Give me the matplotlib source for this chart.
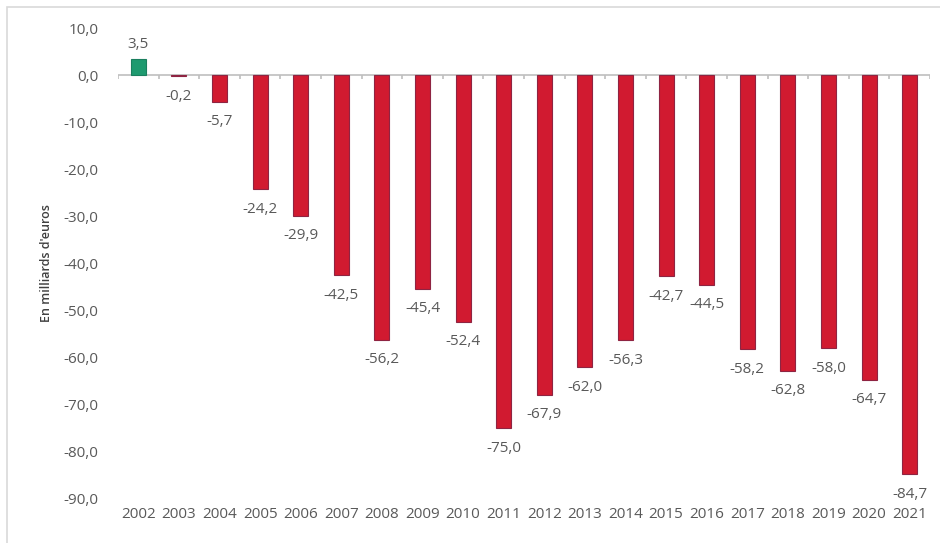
import numpy as np
import matplotlib.pyplot as plt
from matplotlib.patches import Rectangle

# solde commercial, en milliards d'euros
years = ['2002', '2003', '2004', '2005', '2006', '2007', '2008', '2009', '2010', '2011',
         '2012', '2013', '2014', '2015', '2016', '2017', '2018', '2019', '2020', '2021']
values = [3.5, -0.2, -5.7, -24.2, -29.9, -42.5, -56.2, -45.4, -52.4, -75.0,
          -67.9, -62.0, -56.3, -42.7, -44.5, -58.2, -62.8, -58.0, -64.7, -84.7]
y_ticks = [10, 0, -10, -20, -30, -40, -50, -60, -70, -80, -90]

plt.rcParams['font.family'] = ['Open Sans', 'DejaVu Sans']
txt = '#595959'
red = '#D11A30'
green = '#1E9A6F'

fig = plt.figure(figsize=(9.4, 5.43), dpi=100)
# light frame around the chart
fig.patches.append(Rectangle((7 / 940, -0.1), 1.2, 1 - 7 / 543 + 0.1, transform=fig.transFigure,
                             fill=False, edgecolor='#D9D9D9', linewidth=1.2))
ax = fig.add_axes([118 / 940, 1 - 499 / 543, 812 / 940, 471 / 543])

x = np.arange(len(years))
colors = [green if v > 0 else red for v in values]
ax.bar(x, values, width=0.37, color=colors, edgecolor=['#1B7F5E' if v > 0 else '#8E2442' for v in values],
       linewidth=0.8, zorder=2)

for xi, v in zip(x, values):
    s = ('%.1f' % v).replace('.', ',')
    if v >= 0:
        ax.annotate(s, (xi, v), xytext=(0, 5), textcoords='offset points',
                    ha='center', va='bottom', fontsize=11, color=txt)
    else:
        ax.annotate(s, (xi, v), xytext=(0, -9), textcoords='offset points',
                    ha='center', va='top', fontsize=11, color=txt)

ax.set_xlim(-0.5, len(years) - 0.5)
ax.set_ylim(-90, 10)
ax.set_yticks(y_ticks)
ax.set_yticklabels([('%.1f' % t).replace('.', ',') for t in y_ticks])
ax.set_xticks(x)
ax.set_xticklabels(years)
ax.tick_params(axis='both', length=0, labelsize=11, labelcolor=txt)
ax.tick_params(axis='x', pad=6)
ax.tick_params(axis='y', pad=14)
for sp in ax.spines.values():
    sp.set_visible(False)

# zero line with small ticks between categories
ax.axhline(0, color='#BFBFBF', linewidth=1.2, zorder=1)
ax.vlines(np.arange(len(years) + 1) - 0.5, -0.9, 0, color='#BFBFBF', linewidth=1.2, zorder=1)

ax.set_ylabel("En milliards d'euros", fontsize=9, color='#404040', fontweight='semibold')
ax.yaxis.set_label_coords(-0.08, 0.5)

fig.savefig('out.png', dpi=100)
